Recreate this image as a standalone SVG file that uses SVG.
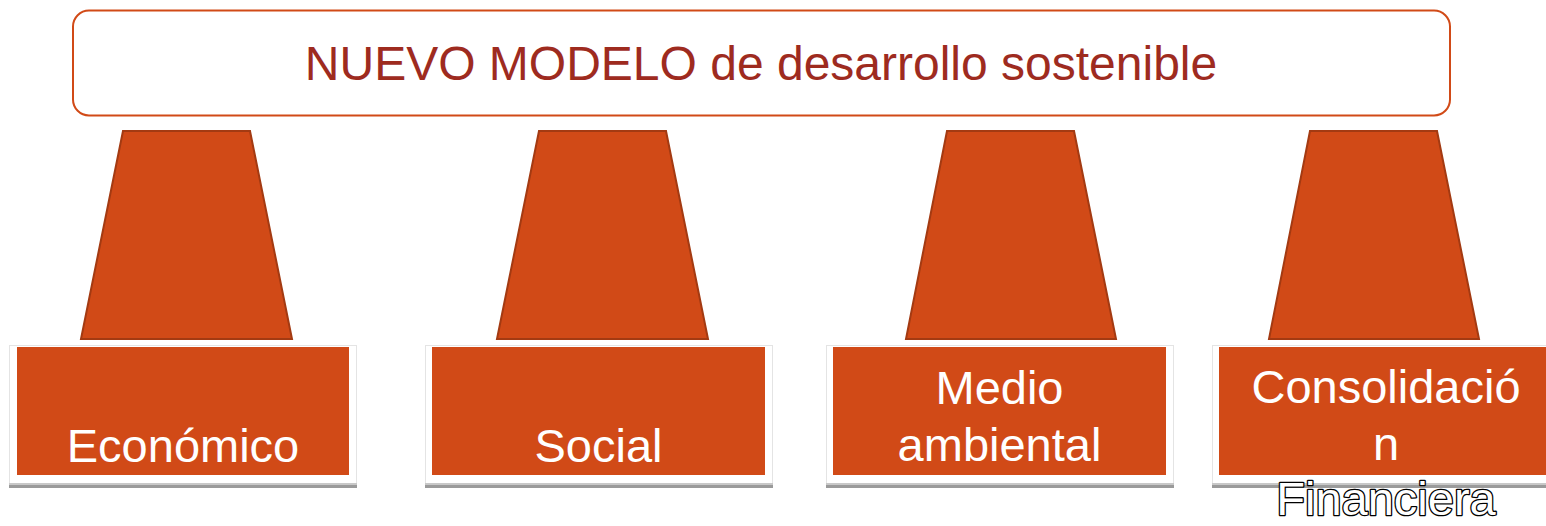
<svg xmlns="http://www.w3.org/2000/svg" width="1546" height="526" viewBox="0 0 1546 526">
<style>
.title{font-family:"Liberation Sans",Arial,sans-serif;font-size:48px;fill:#9E2B1F;text-anchor:middle}
.lbl{font-family:"Liberation Sans",Arial,sans-serif;font-size:47px;fill:#ffffff;text-anchor:middle}
.out{stroke:#000;stroke-width:2.6;paint-order:stroke;stroke-linejoin:round}
.trap{fill:#D14A17;stroke:#A33A12;stroke-width:2}
.panel{fill:#ffffff;stroke:#e4e4e4;stroke-width:1}
.box{fill:#D14A17}
.shadow{fill:#9a9a9a}
.shadow2{fill:#c8c8c8}
</style>
<rect width="1546" height="526" fill="#ffffff"/>
<g id="top">
<rect x="73" y="10.5" width="1377" height="105" rx="16" ry="16" fill="#ffffff" stroke="#D14A17" stroke-width="2"/>
<text class="title" x="761" y="80">NUEVO MODELO de desarrollo sostenible</text>
</g>
<g id="connectors">
<polygon class="trap" points="123,131 250,131 292,339 81,339"/>
<polygon class="trap" points="539,131 666,131 708,339 497,339"/>
<polygon class="trap" points="947,131 1074,131 1116,339 906,339"/>
<polygon class="trap" points="1310,131 1437,131 1479,339 1269,339"/>
</g>
<g id="economico">
<rect class="panel" x="9.5" y="345.5" width="347" height="138"/>
<rect class="shadow2" x="9" y="483" width="348" height="2"/>
<rect class="shadow" x="9" y="485" width="348" height="3"/>
<rect class="box" x="17" y="347" width="332" height="128"/>
<text class="lbl" x="183" y="462">Económico</text>
</g>
<g id="social">
<rect class="panel" x="425.5" y="345.5" width="347" height="138"/>
<rect class="shadow2" x="425" y="483" width="348" height="2"/>
<rect class="shadow" x="425" y="485" width="348" height="3"/>
<rect class="box" x="432" y="347" width="333" height="128"/>
<text class="lbl" x="598.5" y="462">Social</text>
</g>
<g id="medio">
<rect class="panel" x="826.5" y="345.5" width="347" height="138"/>
<rect class="shadow2" x="826" y="483" width="348" height="2"/>
<rect class="shadow" x="826" y="485" width="348" height="3"/>
<rect class="box" x="833" y="347" width="333" height="128"/>
<text class="lbl" x="999.5" y="404">Medio</text>
<text class="lbl" x="999.5" y="461">ambiental</text>
</g>
<g id="consolidacion">
<rect class="panel" x="1212.5" y="345.5" width="347" height="138"/>
<rect class="shadow2" x="1212" y="483" width="348" height="2"/>
<rect class="shadow" x="1212" y="485" width="348" height="3"/>
<rect class="box" x="1219" y="347" width="333" height="128"/>
<text class="lbl" x="1386" y="403">Consolidació</text>
<text class="lbl" x="1386" y="460">n</text>
<text class="lbl out" x="1386" y="515">Financiera</text>
</g>
</svg>
